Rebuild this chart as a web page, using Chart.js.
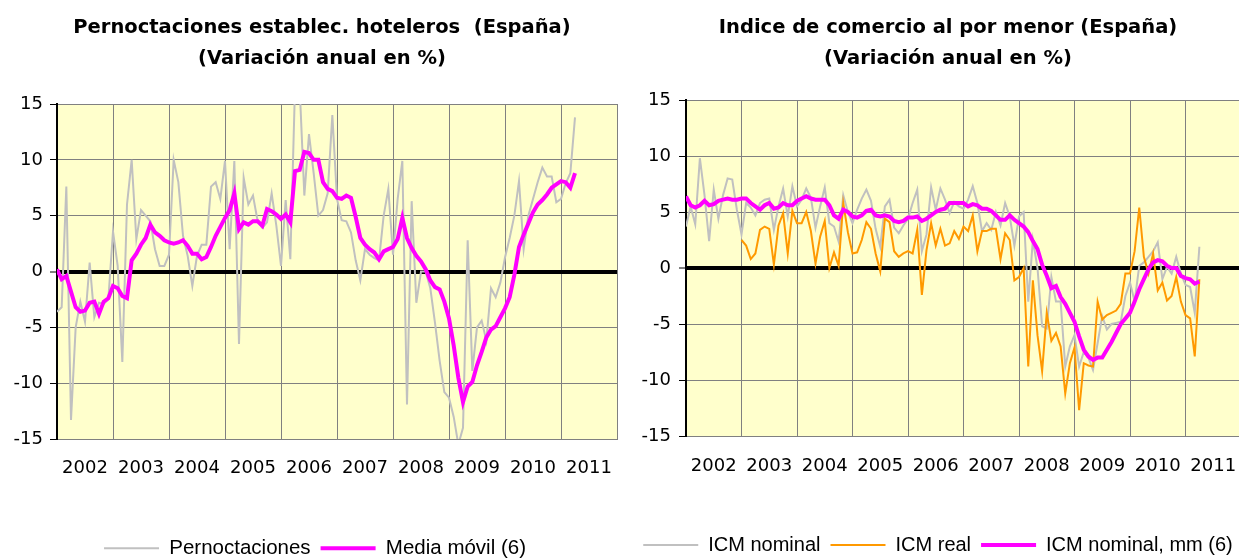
<!DOCTYPE html>
<html>
<head>
<meta charset="utf-8">
<script src="https://cdn.jsdelivr.net/npm/chart.js@4.4.1/dist/chart.umd.min.js"></script>
<style>
  html, body { margin: 0; padding: 0; background: #fff; overflow: hidden; }
  canvas { position: absolute; top: 0; }
  #c1 { left: 0; }
  #c2 { left: 628px; }
</style>
</head>
<body>
<canvas id="c1" width="620" height="558"></canvas>
<canvas id="c2" width="615" height="558"></canvas>
<script>
// year labels, one per 12-month band (months counted from Jan 2002)
const years = ['2002', '2003', '2004', '2005', '2006', '2007', '2008', '2009', '2010', '2011'];

// Pernoctaciones establecimientos hoteleros, monthly, Jan 2002 .. Apr 2011
const pernoctaciones = [
  -3.6, -3.2, 7.6, -13.3, -5.0, -2.7, -4.5, 0.8, -4.1, -2.8,
  -2.9, -2.5, 3.6, 0.5, -8.1, 6.0, 10.0, 2.9, 5.5, 5.0,
  4.5, 2.0, 0.5, 0.5, 1.5, 10.0, 8.0, 3.2, 1.4, -1.3,
  1.4, 2.4, 2.4, 7.6, 8.0, 6.5, 9.9, 2.0, 9.9, -6.5,
  8.4, 6.0, 6.8, 4.5, 3.9, 4.4, 7.0, 4.1, 0.5, 6.4,
  1.1, 16.5, 16.5, 6.8, 12.3, 8.8, 5.0, 5.5, 7.0, 14.0,
  6.5, 4.6, 4.5, 3.5, 1.0, -0.8, 2.0, 1.5, 1.2, 1.0,
  5.0, 7.4, 1.5, 6.5, 9.9, -11.9, 6.3, -2.8, 0.0, 0.0,
  -1.5, -4.6, -8.0, -10.8, -11.3, -13.0, -15.5, -14.0, 2.8, -8.9,
  -5.0, -4.4, -6.2, -1.5, -2.3, -1.0, 1.25, 3.0, 5.0, 8.1,
  2.0, 5.0, 6.5, 8.0, 9.3, 8.5, 8.5, 6.2, 6.5, 7.9,
  8.8, 13.8
];
const pernoctacionesMM6 = [
  0.2, -0.7, -0.4, -1.8, -3.2, -3.6, -3.5, -2.8, -2.7, -3.8,
  -2.7, -2.4, -1.3, -1.5, -2.2, -2.4, 1.0, 1.6, 2.4, 3.0,
  4.2, 3.5, 3.2, 2.8, 2.6, 2.5, 2.6, 2.8, 2.3, 1.6,
  1.6, 1.1, 1.3, 2.2, 3.2, 4.0, 4.8, 5.5, 7.0, 3.8,
  4.4, 4.2, 4.5, 4.5, 4.1, 5.6, 5.4, 5.1, 4.7, 5.1,
  4.4, 9.0, 9.1, 10.7, 10.6, 10.0, 10.0, 8.0, 7.4, 7.2,
  6.6, 6.5, 6.8, 6.6, 4.9, 3.0, 2.4, 2.0, 1.7, 1.1,
  1.8, 2.0, 2.2, 2.9, 4.8, 3.0, 2.1, 1.4, 0.9, 0.2,
  -0.8, -1.4, -1.6, -2.7, -4.2, -6.6, -9.5, -11.7, -10.3, -9.9,
  -8.4, -7.2, -5.9, -5.2, -4.9, -4.1, -3.3, -2.3, -0.3, 2.2,
  3.3, 4.3, 5.3, 6.0, 6.4, 6.9, 7.5, 7.8, 8.1, 8.0,
  7.5, 8.8
];

// Indice de comercio al por menor, monthly, Jan 2002 .. Apr 2011
const icmNominal = [
  3.7, 5.5, 3.9, 9.8, 6.5, 2.4, 7.0, 4.4, 6.5, 8.0,
  7.9, 5.2, 3.0, 5.8, 5.4, 4.7, 5.8, 6.1, 6.2, 3.4,
  5.5, 7.1, 4.6, 7.3, 5.5, 6.1, 7.1, 6.3, 3.6, 5.5,
  7.2, 4.0, 3.7, 2.35, 6.5, 5.0, 4.0, 5.2, 6.2, 7.0,
  6.0, 3.5, 1.9, 5.5, 6.1, 3.6, 3.1, 3.8, 4.4, 5.8,
  7.0, 1.5, 3.0, 7.2, 5.2, 7.1, 6.1, 4.9, 5.9, 5.5,
  5.3, 6.1, 7.3, 5.8, 3.3, 4.0, 3.4, 5.0, 3.8, 5.8,
  4.6, 2.0, 4.6, 5.0, -3.0, 2.5, 0.0, -5.2, -5.4, -0.8,
  -3.0, -3.0, -8.8, -7.0, -6.0, -8.8, -7.5, -8.0, -9.1, -6.7,
  -4.3, -5.5, -5.0, -4.9, -4.8, -2.5, -1.3, -3.0, 0.2, 0.5,
  1.0, 1.5, 2.3, -1.0, 0.1, -0.5, 1.0, -0.5, -1.5, -1.7,
  -4.0, 1.9
];
const icmReal = [
  null, null, null, null, null, null, null, null, null, null,
  null, null, 2.5, 2.0, 0.8, 1.3, 3.4, 3.7, 3.5, 0.3,
  3.8, 4.9, 1.3, 5.1, 4.0, 4.0, 5.0, 3.3, 0.4, 2.8,
  4.2, 0.0, 1.4, 0.2, 5.8, 3.2, 1.3, 1.4, 2.5, 4.1,
  3.5, 1.3, -0.3, 4.4, 4.1, 1.5, 1.0, 1.3, 1.5, 1.3,
  3.4, -2.4, 1.6, 4.0, 2.0, 3.5, 2.0, 2.2, 3.3, 2.6,
  3.7, 3.3, 4.7, 1.5, 3.3, 3.3, 3.5, 3.5, 0.8, 3.1,
  2.5, -1.1, -0.8, 0.0, -8.8, -1.1, -6.0, -9.2, -4.0, -6.5,
  -5.8, -7.0, -11.2, -8.5, -7.1, -12.7, -8.5, -8.7, -8.8, -3.0,
  -4.6, -4.2, -4.0, -3.8, -3.2, -0.5, -0.5, 1.5, 5.4, 1.0,
  -0.5, 1.3, -2.0, -1.3, -2.9, -2.5, -0.8, -3.0, -4.2, -4.5,
  -7.9, -1.0
];
const icmNominalMM6 = [
  6.4, 5.6, 5.4, 5.6, 6.0, 5.6, 5.7, 6.0, 6.1, 6.2,
  6.1, 6.1, 6.2, 6.2, 5.8, 5.5, 5.2, 5.6, 5.8, 5.3,
  5.4, 5.8, 5.6, 5.6, 6.0, 6.2, 6.4, 6.2, 6.1, 6.1,
  6.1, 5.6, 4.7, 4.4, 5.2, 5.0, 4.6, 4.5, 4.7, 5.1,
  5.2, 4.7, 4.6, 4.7, 4.6, 4.2, 4.1, 4.2, 4.5, 4.5,
  4.6, 4.2, 4.4, 4.7, 5.0, 5.2, 5.3, 5.8, 5.8, 5.8,
  5.8, 5.5, 5.7, 5.6, 5.3, 5.3, 5.1, 4.7, 4.3, 4.3,
  4.7, 4.3, 4.0, 3.7, 3.2, 2.4, 1.7, 0.3, -0.7, -1.8,
  -1.6, -2.6, -3.2, -4.0, -4.8, -6.1, -7.3, -7.9, -8.2, -8.0,
  -8.0, -7.3, -6.6, -5.8, -5.0, -4.5, -4.0, -3.0, -1.9, -1.0,
  -0.1, 0.5, 0.7, 0.6, 0.2, 0.0, 0.0, -0.7, -0.9, -1.0,
  -1.4, -1.2
];

const GRAY = '#C0C0C0', MAGENTA = '#FF00FF', ORANGE = '#FF9900';
const TICK_FONT = { family: "'DejaVu Sans', sans-serif", size: 18 };
const CLEAR = 'rgba(0,0,0,0)';

function toPoints(values) {
  return values.map((v, i) => ({ x: i, y: v }));
}

function lineSet(label, values, color, width, order) {
  return {
    label: label, data: toPoints(values),
    borderColor: color, backgroundColor: color, borderWidth: width,
    pointRadius: 0, tension: 0, clip: 0, order: order
  };
}

// yellow plot area like the spreadsheet chart
const plotBg = {
  id: 'plotBg',
  beforeDraw(chart) {
    const { ctx, chartArea: a } = chart;
    ctx.save();
    ctx.fillStyle = '#FFFFCC';
    ctx.fillRect(a.left, a.top, a.right - a.left, a.bottom - a.top);
    ctx.restore();
  }
};

// title and legend are not centred on the plot in the original
const shiftBoxes = {
  id: 'shiftBoxes',
  afterLayout(chart, args, opts) {
    const move = (box, center) => {
      if (!box || center == null) return;
      const d = center - (box.left + box.right) / 2;
      box.left += d;
      box.right += d;
    };
    move(chart.titleBlock, opts.title);
    move(chart.legend, opts.legend);
  }
};

function buildChart(id, s) {
  return new Chart(document.getElementById(id), {
    type: 'line',
    data: { datasets: s.datasets },
    options: {
      responsive: false,
      animation: false,
      events: [],
      layout: { padding: { left: 0, right: s.padRight, top: 0, bottom: 0 } },
      scales: {
        x: {
          type: 'linear', min: 0, max: 120,
          afterFit: (scale) => { scale.height = s.xAxisHeight; },
          ticks: {
            stepSize: 12, autoSkip: false, maxRotation: 0, minRotation: 0,
            padding: 0, labelOffset: s.labelOffset, color: '#000', font: TICK_FONT,
            callback: (v) => years[Math.round(v / 12)] || ''
          },
          grid: {
            drawTicks: true, tickLength: s.xLabelDrop, tickColor: CLEAR, lineWidth: 1,
            color: (c) => c.index === 0 ? CLEAR : '#808080'
          },
          border: { color: '#808080', width: 1 }
        },
        y: {
          min: -15, max: 15,
          afterFit: (scale) => { scale.width = s.yAxisWidth; },
          ticks: { stepSize: 5, padding: s.yLabelPad, color: '#000', font: TICK_FONT },
          grid: {
            color: (c) => (c.tick && c.tick.value === 0) ? '#000' : '#808080',
            lineWidth: (c) => (c.tick && c.tick.value === 0) ? 4 : 1,
            tickColor: '#000', tickWidth: 1, tickLength: 7
          },
          border: { color: '#000', width: 2 }
        }
      },
      plugins: {
        title: {
          display: true, text: s.title, color: '#000',
          font: { family: "'DejaVu Sans', sans-serif", size: 19.5, weight: 'bold', lineHeight: 31 / 19.5 },
          padding: { top: s.titleTop, bottom: s.titleBottom }
        },
        legend: {
          position: 'bottom', reverse: true, maxHeight: s.legendHeight,
          labels: {
            usePointStyle: true, pointStyle: 'line', pointStyleWidth: 55,
            padding: 10, color: '#000',
            font: { family: "'Liberation Sans', Arial, sans-serif", size: s.legendSize }
          }
        },
        tooltip: { enabled: false },
        shiftBoxes: { title: s.titleCenter, legend: s.legendCenter }
      }
    },
    plugins: [plotBg, shiftBoxes]
  });
}

buildChart('c1', {
  title: ['Pernoctaciones establec. hoteleros  (España)', '(Variación anual en %)'],
  datasets: [
    lineSet('Pernoctaciones', pernoctaciones, GRAY, 2, 2),
    lineSet('Media móvil (6)', pernoctacionesMM6, MAGENTA, 4, 1)
  ],
  padRight: 3, yAxisWidth: 57, yLabelPad: 7,
  titleTop: 12.5, titleBottom: 29.5,
  xAxisHeight: 89, xLabelDrop: 19, labelOffset: 28,
  legendHeight: 30, legendSize: 20.5,
  titleCenter: 322, legendCenter: 315
});

buildChart('c2', {
  title: ['Indice de comercio al por menor (España)', '(Variación anual en %)'],
  datasets: [
    lineSet('ICM nominal', icmNominal, GRAY, 2, 3),
    lineSet('ICM real', icmReal, ORANGE, 2, 2),
    lineSet('ICM nominal, mm (6)', icmNominalMM6, MAGENTA, 4, 1)
  ],
  padRight: 2, yAxisWidth: 58, yLabelPad: 8,
  titleTop: 12.5, titleBottom: 25.5,
  xAxisHeight: 89, xLabelDrop: 20, labelOffset: 27.75,
  legendHeight: 33, legendSize: 20,
  titleCenter: 320, legendCenter: 310
});
</script>
</body>
</html>
